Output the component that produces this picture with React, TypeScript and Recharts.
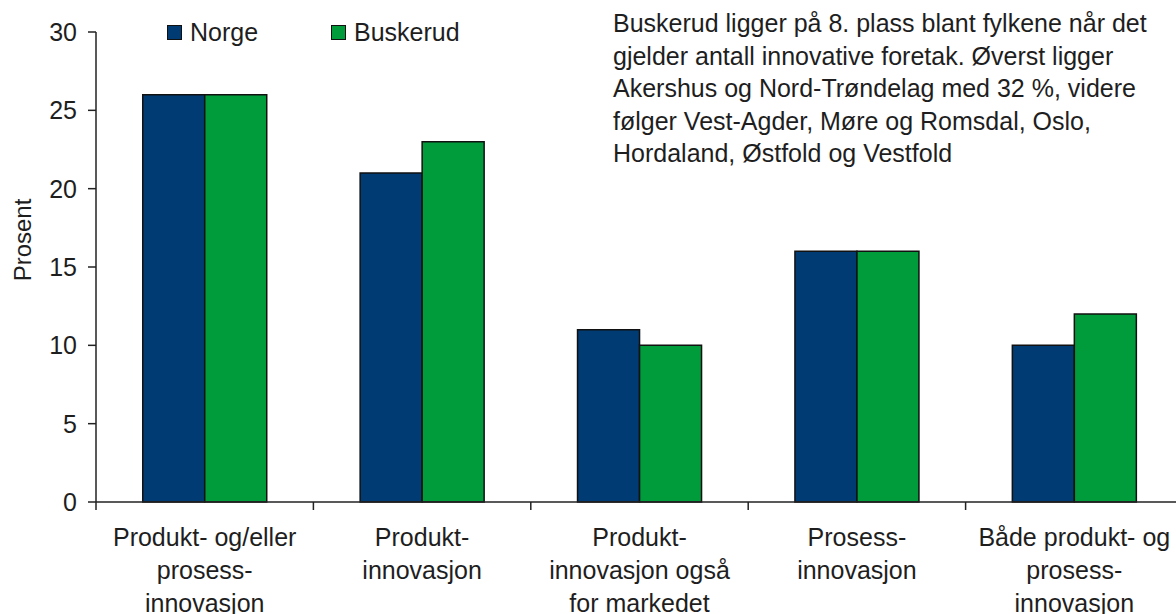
import React from 'react';
import { BarChart, Bar, XAxis, YAxis, Label } from 'recharts';

// --- Data ---
const categories = [
  'Produkt- og/eller\nprosess-\ninnovasjon',
  'Produkt-\ninnovasjon',
  'Produkt-\ninnovasjon også\nfor markedet',
  'Prosess-\ninnovasjon',
  'Både produkt- og\nprosess-\ninnovasjon',
];
const norge = [26, 21, 11, 16, 10];
const buskerud = [26, 23, 10, 16, 12];
const yTicks = [0, 5, 10, 15, 20, 25, 30];
const noteLines = [
  'Buskerud ligger på 8. plass blant fylkene når det',
  'gjelder antall innovative foretak. Øverst ligger',
  'Akershus og Nord-Trøndelag med 32 %, videre',
  'følger Vest-Agder, Møre og Romsdal, Oslo,',
  'Hordaland, Østfold og Vestfold',
];

const data = categories.map((name, i) => ({ name, norge: norge[i], buskerud: buskerud[i] }));

// --- Layout ---
const CHART_W = 1190;
const CHART_H = 614;
const MARGIN = { top: 32, right: 7, bottom: 0, left: 0 };
const Y_AXIS_W = 96;
const X_AXIS_H = 112;
const BAND = (CHART_W - MARGIN.left - MARGIN.right - Y_AXIS_W) / categories.length;

const FONT = '"Liberation Sans", Arial, sans-serif';
const TEXT = '#1e1e1e';
const NORGE = '#003B73';
const BUSKERUD = '#009B3A';

const series = [
  { key: 'norge', name: 'Norge', color: NORGE },
  { key: 'buskerud', name: 'Buskerud', color: BUSKERUD },
];

const XTick = (props: any) => {
  const { x, y, payload } = props;
  const lines = String(payload.value).split('\n');
  const left = x - BAND / 2;
  return (
    <g>
      <line x1={left} y1={y} x2={left} y2={y + 8} stroke="#222" strokeWidth={1.5} />
      <text x={x} y={y + 44} textAnchor="middle" fill={TEXT} fontSize={25} fontFamily={FONT}>
        {lines.map((l, i) => (
          <tspan key={i} x={x} dy={i === 0 ? 0 : 33}>
            {l}
          </tspan>
        ))}
      </text>
    </g>
  );
};

// legend drawn as plain html over the chart so it doesn't shift the plot area
const ChartLegend = () => (
  <div
    style={{
      position: 'absolute',
      left: 167,
      top: 18,
      display: 'flex',
      fontFamily: FONT,
      fontSize: 25,
      color: TEXT,
    }}
  >
    {series.map((s) => (
      <div key={s.key} style={{ display: 'flex', alignItems: 'center', width: 164 }}>
        <span
          style={{
            display: 'inline-block',
            width: 13,
            height: 13,
            background: s.color,
            border: '1px solid #111',
            marginRight: 8,
          }}
        />
        <span>{s.name}</span>
      </div>
    ))}
  </div>
);

export default function App() {
  return (
    <div
      style={{
        position: 'absolute',
        left: 0,
        top: 0,
        width: 1176,
        height: 614,
        overflow: 'hidden',
        background: '#fff',
      }}
    >
      <BarChart
        width={CHART_W}
        height={CHART_H}
        data={data}
        margin={MARGIN}
        barGap={0}
        barCategoryGap="21.5%"
      >
        <XAxis
          dataKey="name"
          height={X_AXIS_H}
          interval={0}
          tickLine={false}
          tickSize={0}
          tickMargin={0}
          tick={<XTick />}
          axisLine={{ stroke: '#222', strokeWidth: 1.5 }}
        />
        <YAxis
          width={Y_AXIS_W}
          domain={[0, 30]}
          ticks={yTicks}
          interval={0}
          tickSize={8}
          tickMargin={11}
          axisLine={{ stroke: '#222', strokeWidth: 1.5 }}
          tickLine={{ stroke: '#222', strokeWidth: 1.5 }}
          tick={{ fill: TEXT, fontSize: 25, fontFamily: FONT }}
        >
          <Label
            value="Prosent"
            angle={-90}
            position="insideLeft"
            offset={0}
            dx={22}
            dy={-27}
            style={{ fill: TEXT, fontSize: 24, fontFamily: FONT, textAnchor: 'middle' }}
          />
        </YAxis>
        {series.map((s) => (
          <Bar
            key={s.key}
            dataKey={s.key}
            name={s.name}
            fill={s.color}
            stroke="#111"
            strokeWidth={1.5}
            isAnimationActive={false}
          />
        ))}
      </BarChart>
      <ChartLegend />
      <div
        style={{
          position: 'absolute',
          left: 613,
          top: 7,
          fontFamily: FONT,
          fontSize: 25,
          lineHeight: '32.5px',
          color: TEXT,
          whiteSpace: 'nowrap',
        }}
      >
        {noteLines.map((l, i) => (
          <div key={i}>{l}</div>
        ))}
      </div>
    </div>
  );
}
